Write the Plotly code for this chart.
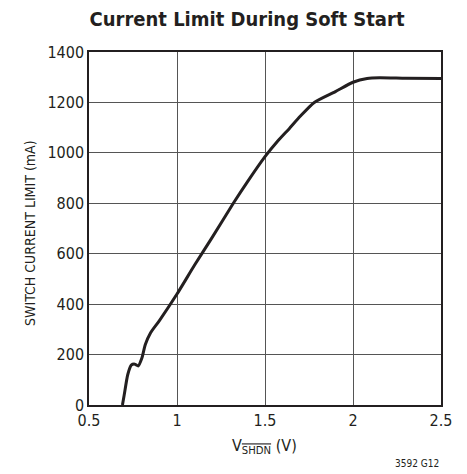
import plotly.graph_objects as go

v_shdn = [0.69, 0.70, 0.72, 0.74, 0.76, 0.78, 0.80, 0.82, 0.85, 0.90, 1.0, 1.1, 1.2, 1.32, 1.4, 1.5, 1.57, 1.64, 1.7, 1.78, 1.9, 2.0, 2.08, 2.15, 2.3, 2.5]
current_ma = [0, 40, 120, 158, 162, 155, 185, 240, 287, 335, 440, 555, 665, 800, 885, 985, 1045, 1098, 1145, 1200, 1243, 1280, 1295, 1298, 1296, 1295]

x_ticks = [0.5, 1, 1.5, 2, 2.5]
x_tick_text = ["0.5", "1", "1.5", "2", "2.5"]
y_ticks = [0, 200, 400, 600, 800, 1000, 1200, 1400]

FONT = "DejaVu Sans Condensed, Liberation Sans Narrow, Arial Narrow, sans-serif"

L, R, T, B = 89, 26, 52, 69
W, H = 467, 474
pw, ph = W - L - R, H - T - B

fig = go.Figure()
fig.add_trace(go.Scatter(
    x=v_shdn, y=current_ma, mode="lines",
    line=dict(color="#231f20", width=3, shape="spline", smoothing=0.6),
    showlegend=False, hoverinfo="skip",
))

fig.update_layout(
    width=W, height=H,
    margin=dict(l=L, r=R, t=T, b=B),
    paper_bgcolor="white", plot_bgcolor="white",
    font=dict(family=FONT, color="#231f20"),
    title=dict(text="<b>Current Limit During Soft Start</b>", x=247 / W, xanchor="center",
               y=1 - 19 / H, yanchor="middle", font=dict(size=20, family=FONT, color="#231f20")),
    xaxis=dict(
        range=[0.5, 2.5], tickvals=x_ticks, ticktext=x_tick_text,
        showgrid=True, gridcolor="#555555", gridwidth=1,
        showline=True, linecolor="#231f20", linewidth=1.5, mirror=True,
        ticks="", tickfont=dict(size=16, family=FONT), automargin=False,
        zeroline=False,
    ),
    yaxis=dict(
        range=[0, 1400], tickvals=y_ticks,
        showgrid=True, gridcolor="#555555", gridwidth=1,
        showline=True, linecolor="#231f20", linewidth=1.5, mirror=True,
        ticks="", tickfont=dict(size=16, family=FONT), automargin=False,
        zeroline=False,
    ),
    annotations=[
        dict(text="V<sub><span style=\"text-decoration:overline\">SHDN</span></sub> (V)",
             x=(264 - L) / pw, y=-(446 - (T + ph)) / ph, xref="paper", yref="paper",
             xanchor="center", yanchor="middle", showarrow=False, font=dict(size=16, family=FONT)),
        dict(text="SWITCH CURRENT LIMIT (mA)", textangle=-90,
             x=-(L - 30) / pw, y=(T + ph - 233) / ph, xref="paper", yref="paper",
             xanchor="center", yanchor="middle", showarrow=False, font=dict(size=14, family=FONT)),
        dict(text="3592 G12", x=(441 - L) / pw, y=-(463 - (T + ph)) / ph, xref="paper", yref="paper",
             xanchor="right", yanchor="middle", showarrow=False, font=dict(size=10, family=FONT)),
    ],
)

fig.write_html("out.html", config={"displayModeBar": False},
               post_script="document.body.style.margin='0';document.body.style.overflow='hidden';")
